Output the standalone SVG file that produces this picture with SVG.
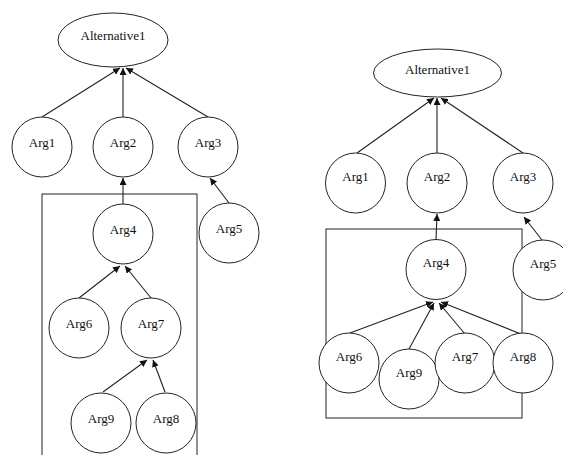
<svg xmlns="http://www.w3.org/2000/svg" width="563" height="455" viewBox="0 0 563 455" font-family="Liberation Serif, DejaVu Serif, serif">
<style>
.n{fill:#fff;stroke:#222;stroke-width:1}
.t{font-family:"Liberation Serif","DejaVu Serif",serif;font-size:13px;fill:#111;text-anchor:middle}
.e{stroke:#222;stroke-width:1.1;fill:none;marker-end:url(#a)}
.b{fill:none;stroke:#222;stroke-width:1}
</style>
<defs>
<marker id="a" viewBox="0 0 10 10" refX="10" refY="5" markerWidth="7" markerHeight="7" markerUnits="userSpaceOnUse" orient="auto">
<path d="M0,0 L10,5 L0,10 z" fill="#111"/>
</marker>
</defs>
<rect width="563" height="455" fill="#fff"/>
<rect class="b" x="42" y="194" width="155" height="270"/>
<rect class="b" x="326" y="229" width="196" height="189"/>
<g id="connectors">
<line class="e" x1="42" y1="117" x2="120" y2="68"/>
<line class="e" x1="123" y1="117" x2="123" y2="68"/>
<line class="e" x1="208" y1="117" x2="126" y2="68"/>
<line class="e" x1="123" y1="204" x2="123" y2="178"/>
<line class="e" x1="229" y1="203" x2="210" y2="178"/>
<line class="e" x1="79" y1="298" x2="120" y2="266"/>
<line class="e" x1="151" y1="298" x2="125" y2="266"/>
<line class="e" x1="103" y1="392" x2="147" y2="360"/>
<line class="e" x1="165" y1="392" x2="153" y2="360"/>
<line class="e" x1="357" y1="153" x2="434" y2="98"/>
<line class="e" x1="437" y1="153" x2="437" y2="98"/>
<line class="e" x1="523" y1="153" x2="441" y2="98"/>
<line class="e" x1="436" y1="240" x2="437" y2="214"/>
<line class="e" x1="542" y1="240" x2="524" y2="217"/>
<line class="e" x1="350" y1="333" x2="433" y2="302"/>
<line class="e" x1="409" y1="349" x2="434" y2="303"/>
<line class="e" x1="465" y1="334" x2="439" y2="303"/>
<line class="e" x1="521" y1="334" x2="441" y2="302"/>
</g>
<g id="L_alt"><ellipse class="n" cx="113" cy="40" rx="55" ry="27"/><text class="t" x="113" y="40">Alternative1</text></g>
<g id="L_arg1"><circle class="n" cx="42" cy="147" r="30"/><text class="t" x="42" y="147">Arg1</text></g>
<g id="L_arg2"><circle class="n" cx="123" cy="147" r="30"/><text class="t" x="123" y="147">Arg2</text></g>
<g id="L_arg3"><circle class="n" cx="208" cy="147" r="30"/><text class="t" x="208" y="147">Arg3</text></g>
<g id="L_arg4"><circle class="n" cx="123" cy="234" r="30"/><text class="t" x="123" y="234">Arg4</text></g>
<g id="L_arg5"><circle class="n" cx="229" cy="233" r="30"/><text class="t" x="229" y="233">Arg5</text></g>
<g id="L_arg6"><circle class="n" cx="79" cy="328" r="30"/><text class="t" x="79" y="328">Arg6</text></g>
<g id="L_arg7"><circle class="n" cx="151" cy="328" r="30"/><text class="t" x="151" y="328">Arg7</text></g>
<g id="L_arg9"><circle class="n" cx="101" cy="423" r="30"/><text class="t" x="101" y="423">Arg9</text></g>
<g id="L_arg8"><circle class="n" cx="166" cy="423" r="30"/><text class="t" x="166" y="423">Arg8</text></g>
<g id="R_alt"><ellipse class="n" cx="437.5" cy="73" rx="64" ry="24"/><text class="t" x="437.5" y="74">Alternative1</text></g>
<g id="R_arg1"><circle class="n" cx="355.5" cy="183" r="30"/><text class="t" x="355.5" y="181">Arg1</text></g>
<g id="R_arg2"><circle class="n" cx="437" cy="183" r="30"/><text class="t" x="437" y="181">Arg2</text></g>
<g id="R_arg3"><circle class="n" cx="523" cy="183" r="30"/><text class="t" x="523" y="181">Arg3</text></g>
<g id="R_arg4"><circle class="n" cx="436" cy="269.5" r="30"/><text class="t" x="436" y="267">Arg4</text></g>
<g id="R_arg5"><circle class="n" cx="543" cy="270" r="30"/><text class="t" x="543" y="268">Arg5</text></g>
<g id="R_arg6"><circle class="n" cx="349" cy="363" r="30"/><text class="t" x="349" y="361">Arg6</text></g>
<g id="R_arg9"><circle class="n" cx="409" cy="379" r="30"/><text class="t" x="409" y="377">Arg9</text></g>
<g id="R_arg7"><circle class="n" cx="465" cy="363" r="30"/><text class="t" x="465" y="361">Arg7</text></g>
<g id="R_arg8"><circle class="n" cx="523" cy="363" r="30"/><text class="t" x="523" y="361">Arg8</text></g>
</svg>
